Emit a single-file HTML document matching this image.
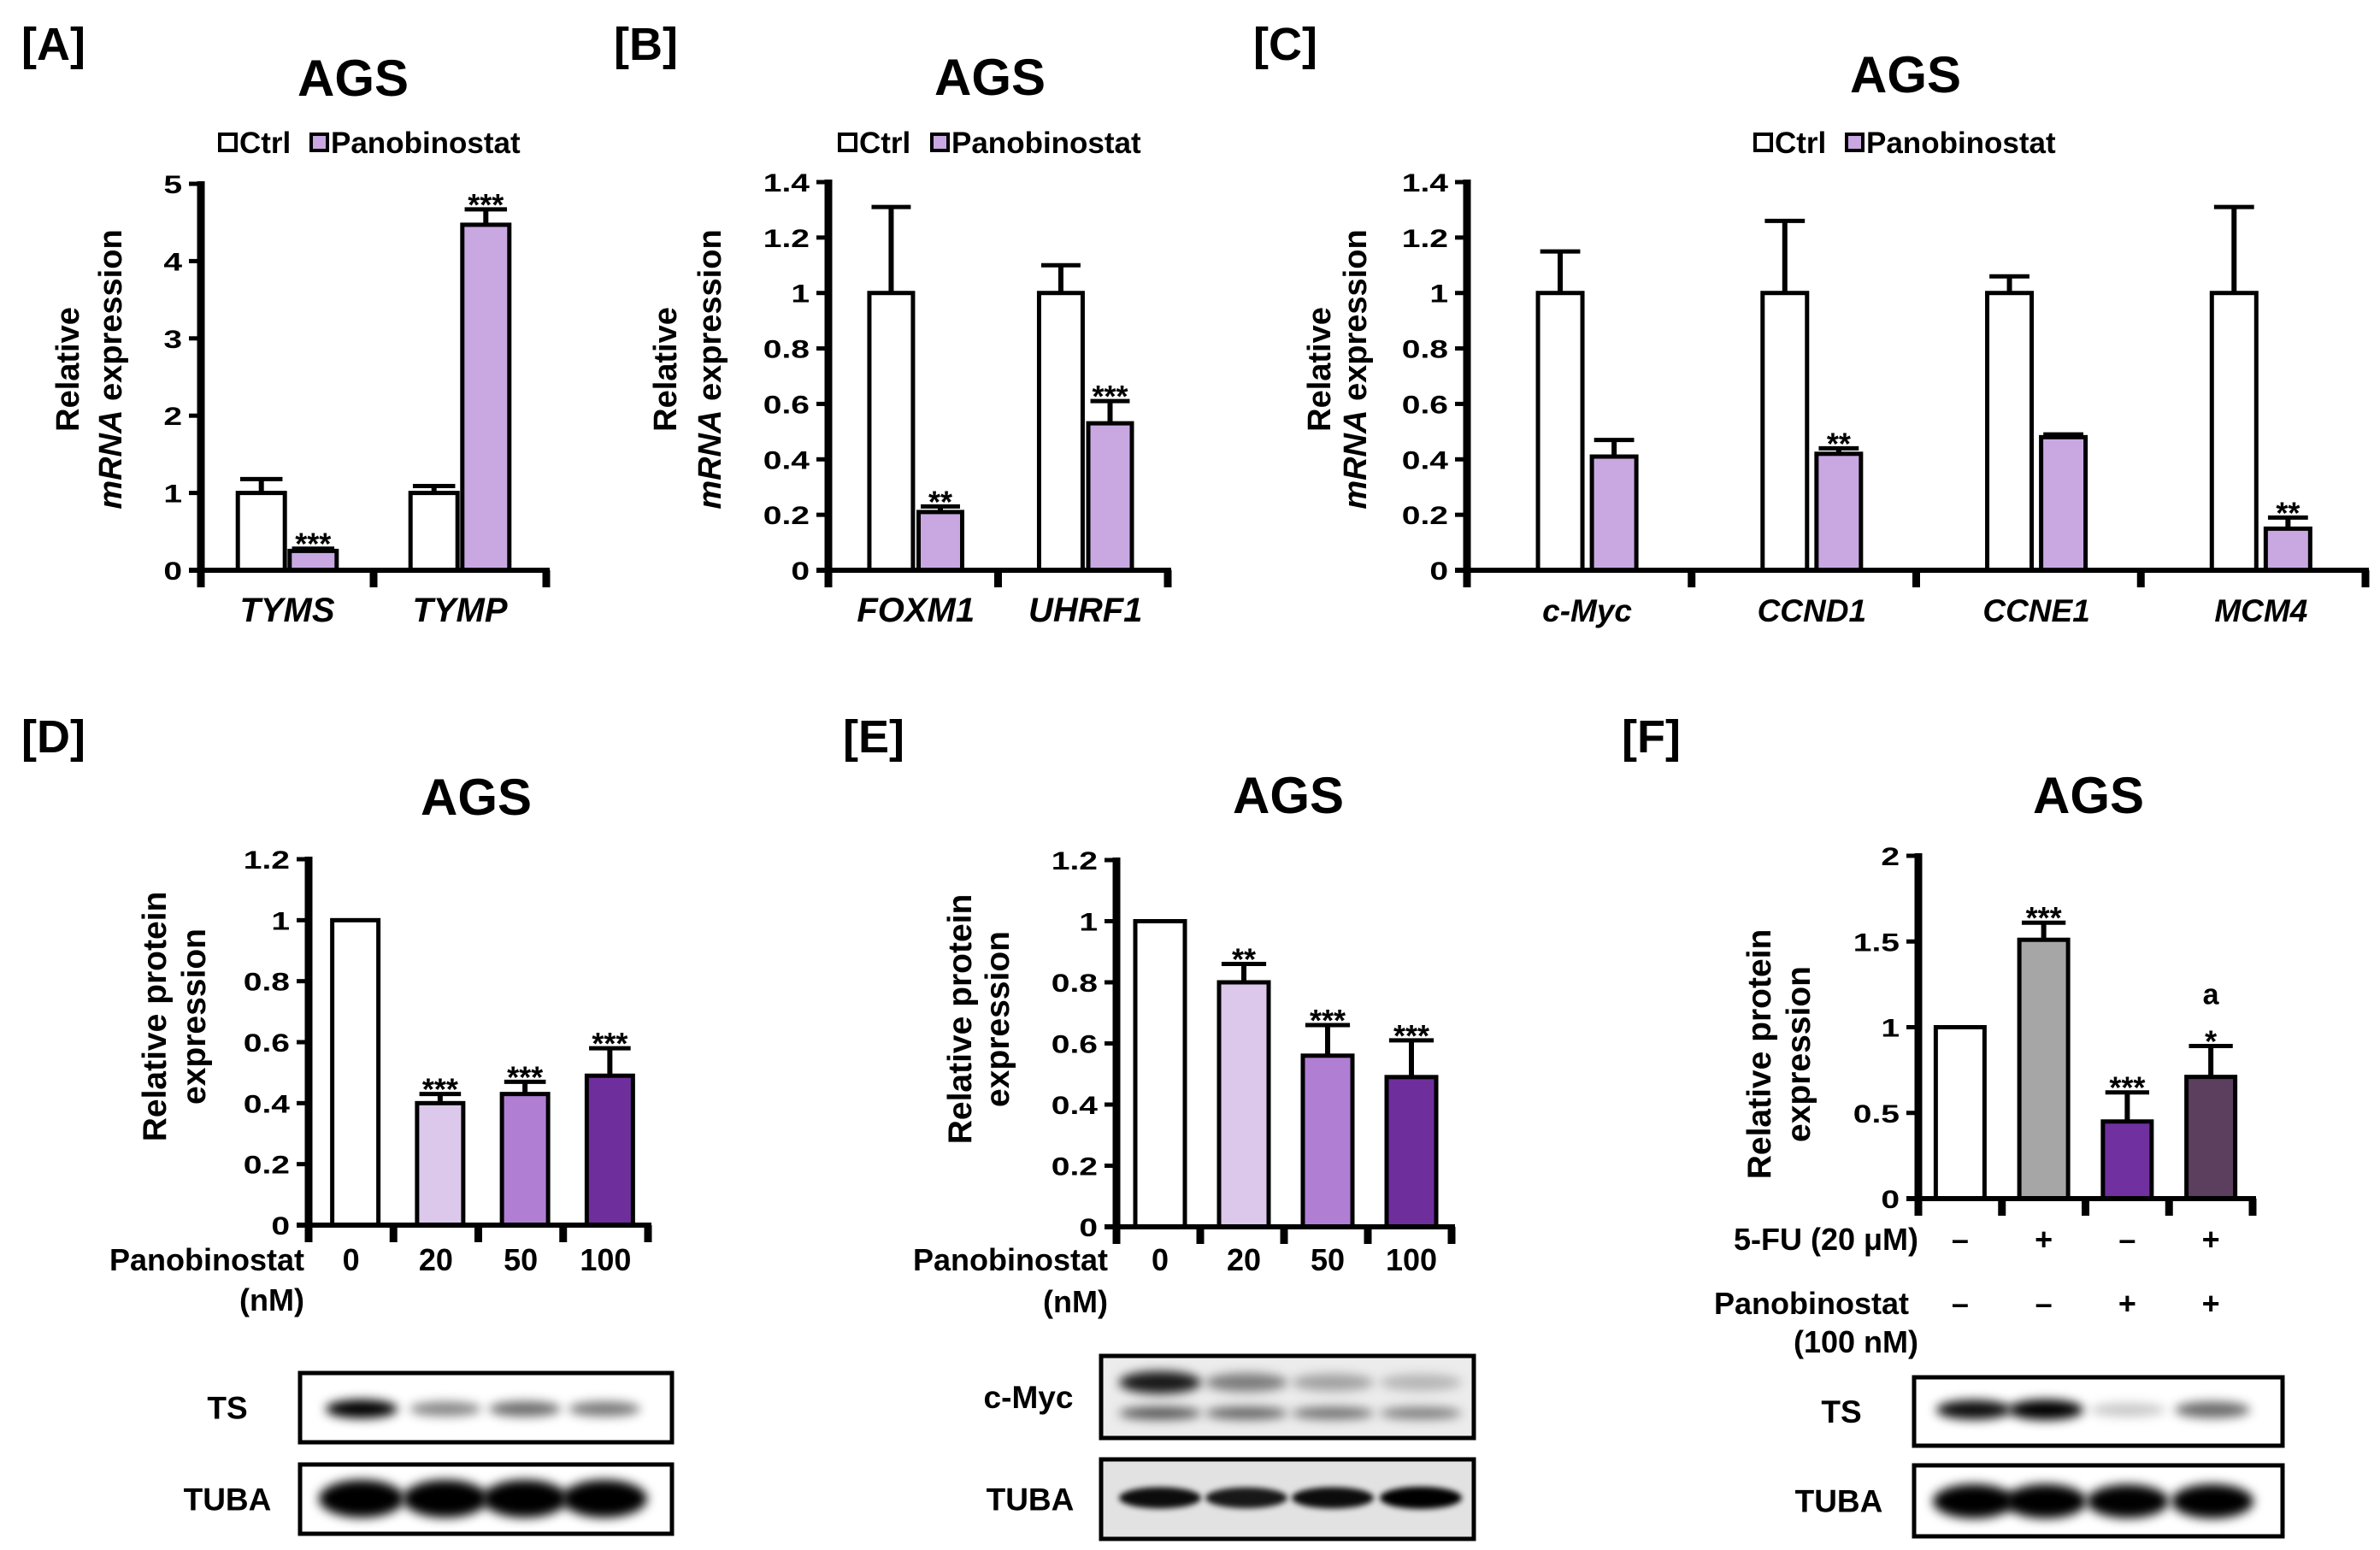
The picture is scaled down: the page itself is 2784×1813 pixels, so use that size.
<!DOCTYPE html>
<html><head><meta charset="utf-8"><style>
html,body{margin:0;padding:0;background:#fff;}
svg{display:block;font-family:"Liberation Sans",Arial,sans-serif;}
</style></head><body>
<svg id="fig" width="2784" height="1813" viewBox="0 0 2784 1813" xmlns="http://www.w3.org/2000/svg">
<defs>
<filter id="blur6" x="-50%" y="-100%" width="200%" height="300%"><feGaussianBlur stdDeviation="6"/></filter>
<filter id="blur3" x="-50%" y="-100%" width="200%" height="300%"><feGaussianBlur stdDeviation="3.5"/></filter>
</defs>
<rect width="2784" height="1813" fill="#fff"/>
<g font-weight="bold" fill="#000">
<text x="25" y="70" font-size="54">[A]</text>
<text x="718" y="70" font-size="54">[B]</text>
<text x="1466" y="70" font-size="54">[C]</text>
<text x="25" y="880" font-size="54">[D]</text>
<text x="986" y="880" font-size="54">[E]</text>
<text x="1897" y="880" font-size="54">[F]</text>
<text x="413" y="112" font-size="60" text-anchor="middle">AGS</text>
<text x="1158" y="111" font-size="60" text-anchor="middle">AGS</text>
<text x="2229" y="108" font-size="60" text-anchor="middle">AGS</text>
<text x="557" y="953" font-size="60" text-anchor="middle">AGS</text>
<text x="1507" y="951" font-size="60" text-anchor="middle">AGS</text>
<text x="2443" y="951" font-size="60" text-anchor="middle">AGS</text>
</g>
</svg>
<script>
// ---- Panel A data ----
const aCats=['TYMS','TYMP'];
const aCtrl=[1,1];
const aCtrlErr=[0.18,0.09];
const aPano=[0.25,4.47];
const aPanoErr=[0.03,0.2];
const aStars=['***','***'];
const aTicks=[0,1,2,3,4,5];
const aTickLabels=['0','1','2','3','4','5'];
// ---- Panel B data ----
const bCats=['FOXM1','UHRF1'];
const bCtrl=[1,1];
const bCtrlErr=[0.31,0.10];
const bPano=[0.21,0.53];
const bPanoErr=[0.02,0.08];
const bStars=['**','***'];
const bTicks=[0,0.2,0.4,0.6,0.8,1,1.2,1.4];
const bTickLabels=['0','0.2','0.4','0.6','0.8','1','1.2','1.4'];
// ---- Panel C data ----
const cCats=['c-Myc','CCND1','CCNE1','MCM4'];
const cCtrl=[1,1,1,1];
const cCtrlErr=[0.15,0.26,0.06,0.31];
const cPano=[0.41,0.42,0.48,0.15];
const cPanoErr=[0.06,0.02,0.01,0.04];
const cStars=['','**','','**'];
const cTicks=[0,0.2,0.4,0.6,0.8,1,1.2,1.4];
const cTickLabels=['0','0.2','0.4','0.6','0.8','1','1.2','1.4'];
// ---- Panel D data ----
const dCats=['0','20','50','100'];
const dVals=[1,0.40,0.43,0.49];
const dErr=[0,0.03,0.04,0.09];
const dStars=['','***','***','***'];
const dTicks=[0,0.2,0.4,0.6,0.8,1,1.2];
const dTickLabels=['0','0.2','0.4','0.6','0.8','1','1.2'];
const dTS=[1,0.45,0.55,0.5];
const dTUBA=[1,1,1,1];
// ---- Panel E data ----
const eCats=['0','20','50','100'];
const eVals=[1,0.80,0.56,0.49];
const eErr=[0,0.06,0.10,0.12];
const eStars=['','**','***','***'];
const eTicks=[0,0.2,0.4,0.6,0.8,1,1.2];
const eTickLabels=['0','0.2','0.4','0.6','0.8','1','1.2'];
const eMycUpper=[0.85,0.45,0.3,0.22];
const eMycLower=[0.6,0.55,0.5,0.45];
const eTUBA=[0.9,0.85,0.9,1];
// ---- Panel F data ----
const fFU=['–','+','–','+'];
const fPano=['–','–','+','+'];
const fVals=[1,1.51,0.45,0.71];
const fErr=[0,0.10,0.17,0.18];
const fStars=['','***','***','*'];
const fTicks=[0,0.5,1,1.5,2];
const fTickLabels=['0','0.5','1','1.5','2'];
const fTS=[0.9,1,0.2,0.55];
const fTUBA=[1,1,0.95,1];

const NS='http://www.w3.org/2000/svg';
const svg=document.getElementById('fig');
function mk(tag,attrs,parent,txt){
  const e=document.createElementNS(NS,tag);
  for(const k in attrs) e.setAttribute(k,attrs[k]);
  if(txt!=null) e.textContent=txt;
  (parent||svg).appendChild(e);
  return e;
}
function line(x1,y1,x2,y2,w,p){return mk('line',{x1:x1,y1:y1,x2:x2,y2:y2,stroke:'#000','stroke-width':w},p);}

function axes(g,P,n,scale){
  P.ticks.forEach((t,i)=>{
    const y=scale(t);
    const tk=line(P.x0-14,y,P.x0,y,5,g);
    
    
    const tl=mk('text',{transform:`translate(${P.x0-22},${y+11}) scale(1.3,1)`,'font-size':30,'font-weight':'bold','text-anchor':'end'},g,P.labels[i]);
    
    
  });
  const ya=line(P.x0,P.yTop-3,P.x0,P.y0+20,9,g);
  
  
  const xa=line(P.x0-14,P.y0,P.x1+4,P.y0,6,g);
  
  
  const gw=(P.x1-P.x0)/n;
  for(let i=0;i<=n;i++){
    const xt=line(P.x0+i*gw,P.y0,P.x0+i*gw,P.y0+20,9,g);
    
    
  }
}
function bar(g,cx,bw,v,err,fill,scale,P,star,name){
  const y=scale(v);
  if(err>0){
    const ye=scale(v+err);
    const el=line(cx,y,cx,ye,6,g);
    
    
    const cap=line(cx-bw*0.45,ye,cx+bw*0.45,ye,5,g);
    
    
  }
  const r=mk('rect',{x:cx-bw/2,y:y,width:bw,height:P.y0-y,fill:fill,stroke:'#000','stroke-width':5},g);
  
  
  if(star){
    const s=mk('text',{x:cx,y:scale(v+err)+7,'font-size':36,'font-weight':'bold','text-anchor':'middle'},g,star);
    
    
  }
}
function grouped(P,cats,ctrl,ctrlErr,pano,panoErr,stars,name){
  const g=mk('g',{});
  
  
  const scale=v=>P.y0-v/P.max*(P.y0-P.yTop);
  const n=cats.length, gw=(P.x1-P.x0)/n;
  cats.forEach((c,i)=>{
    const gx=P.x0+i*gw;
    bar(g,gx+P.offC*gw,P.bw,ctrl[i],ctrlErr[i],'#fff',scale,P,'','bar-ctrl-'+c.toLowerCase());
    bar(g,gx+P.offP*gw,P.bw,pano[i],panoErr[i],'#c9a8e2',scale,P,stars[i],'bar-panobinostat-'+c.toLowerCase());
    const t=mk('text',{x:gx+(P.offC+P.offP)/2*gw,y:P.y0+60,'font-size':P.catFont,'font-weight':'bold','font-style':'italic','text-anchor':'middle'},g,c);
    
    
  });
  axes(g,P,n,scale);
  const L=P.leg;
  const s1=mk('rect',{x:L[0]+2,y:157,width:19,height:19,fill:'#fff',stroke:'#000','stroke-width':4},g);
  
  
  const t1=mk('text',{x:L[0]+25,y:179,'font-size':35,'font-weight':'bold'},g,'Ctrl');
  
  
  const s2=mk('rect',{x:L[1]+2,y:157,width:19,height:19,fill:'#c9a8e2',stroke:'#000','stroke-width':4},g);
  
  
  const t2=mk('text',{x:L[1]+25,y:179,'font-size':35,'font-weight':'bold'},g,'Panobinostat');
  
  
  const yt=mk('text',{transform:`translate(${P.yt[0]},432) rotate(-90)`,'font-size':38,'font-weight':'bold','text-anchor':'middle'},g);
  
  
  mk('tspan',{x:0,y:13},yt,'Relative');
  const ts=mk('tspan',{x:0,y:13+(P.yt[1]-P.yt[0])},yt);
  mk('tspan',{'font-style':'italic'},ts,'mRNA');
  mk('tspan',{},ts,' expression');
}
function single(P,vals,err,stars,fills,name){
  const g=mk('g',{});
  
  
  const scale=v=>P.y0-v/P.max*(P.y0-P.yTop);
  const n=vals.length, gw=(P.x1-P.x0)/n;
  vals.forEach((v,i)=>{
    bar(g,P.x0+(i+0.5)*gw+P.shift,P.bw,v,err[i],fills[i],scale,P,stars[i],'bar-'+i);
  });
  axes(g,P,n,scale);
  const yt=mk('text',{transform:`translate(${P.yt[0]},${P.ytc}) rotate(-90)`,'font-size':39,'font-weight':'bold','text-anchor':'middle'},g);
  
  
  mk('tspan',{x:0,y:13},yt,'Relative protein');
  mk('tspan',{x:0,y:13+(P.yt[1]-P.yt[0])},yt,'expression');
  return {g:g,gw:gw};
}
function catRow(g,P,gw,cats,y,shift,nameLbl){
  cats.forEach((c,i)=>{
    const t=mk('text',{x:P.x0+(i+0.5)*gw+shift,y:y,'font-size':36,'font-weight':'bold','text-anchor':'middle'},g,c);
    
    
  });
}
function blot(x,y,w,h,lanes,label,lblX,name,bands,bg){
  const g=mk('g',{});
  
  
  mk('rect',{x:x,y:y,width:w,height:h,fill:bg||'#fff'},g);
  bands.forEach(b=>{
    lanes.forEach((lx,i)=>{
      const v=b.vals[i];
      const e=mk('ellipse',{cx:lx,cy:y+b.dy,rx:b.rx,ry:b.ry*(0.6+0.4*v),fill:'#000','fill-opacity':Math.min(1,v*1.05),filter:'url(#'+b.f+')'},g);
      
      
    });
  });
  const r=mk('rect',{x:x,y:y,width:w,height:h,fill:'none',stroke:'#000','stroke-width':5},g);
  
  
  const t=mk('text',{x:lblX,y:y+h/2+13,'font-size':37,'font-weight':'bold','text-anchor':'middle'},g,label);
  
  
}

grouped({x0:235,x1:639,y0:667,yTop:215,max:5,ticks:aTicks,labels:aTickLabels,offC:0.35,offP:0.65,bw:55,catFont:40,leg:[255,362],yt:[79,129]},aCats,aCtrl,aCtrlErr,aPano,aPanoErr,aStars,'panel-a-chart');
grouped({x0:969,x1:1366,y0:667,yTop:213,max:1.4,ticks:bTicks,labels:bTickLabels,offC:0.37,offP:0.66,bw:51,catFont:40,leg:[980,1088],yt:[778,830]},bCats,bCtrl,bCtrlErr,bPano,bPanoErr,bStars,'panel-b-chart');
grouped({x0:1716,x1:2767,y0:667,yTop:213,max:1.4,ticks:cTicks,labels:cTickLabels,offC:0.415,offP:0.655,bw:52,catFont:37,leg:[2051,2158],yt:[1543,1585]},cCats,cCtrl,cCtrlErr,cPano,cPanoErr,cStars,'panel-c-chart');

const PD={x0:361,x1:758,y0:1433,yTop:1005,max:1.2,ticks:dTicks,labels:dTickLabels,bw:54,shift:5,yt:[181,227],ytc:1189};
const rd=single(PD,dVals,dErr,dStars,['#fff','#dcc8ea','#b07fd4','#6e2f9c'],'panel-d-chart');
catRow(rd.g,PD,rd.gw,dCats,1486,0,'x-category-label');
let t=mk('text',{x:356,y:1486,'font-size':36,'font-weight':'bold','text-anchor':'end'},rd.g,'Panobinostat');


t=mk('text',{x:356,y:1533,'font-size':36,'font-weight':'bold','text-anchor':'end'},rd.g,'(nM)');


blot(351,1606,435,81,[423,521,614,707],'TS',266,'blot-d-ts',[{dy:42,rx:42,ry:11,f:'blur6',vals:dTS}]);
blot(351,1713,435,81,[423,521,614,707],'TUBA',266,'blot-d-tuba',[{dy:40,rx:50,ry:22,f:'blur6',vals:dTUBA}]);

const PE={x0:1306,x1:1698,y0:1435,yTop:1006,max:1.2,ticks:eTicks,labels:eTickLabels,bw:58,shift:2,yt:[1123,1167],ytc:1192};
const re=single(PE,eVals,eErr,eStars,['#fff','#dcc8ea','#b07fd4','#6e2f9c'],'panel-e-chart');
catRow(re.g,PE,re.gw,eCats,1486,2,'x-category-label');
t=mk('text',{x:1296,y:1486,'font-size':36,'font-weight':'bold','text-anchor':'end'},re.g,'Panobinostat');


t=mk('text',{x:1296,y:1535,'font-size':36,'font-weight':'bold','text-anchor':'end'},re.g,'(nM)');


blot(1288,1586,436,96,[1357,1458,1559,1662],'c-Myc',1203,'blot-e-cmyc',[{dy:31,rx:48,ry:14,f:'blur6',vals:eMycUpper},{dy:67,rx:48,ry:9,f:'blur6',vals:eMycLower}],'#ececec');
blot(1288,1707,436,93,[1357,1458,1559,1662],'TUBA',1205,'blot-e-tuba',[{dy:45,rx:48,ry:13,f:'blur3',vals:eTUBA}],'#e2e2e2');

const PF={x0:2244,x1:2635,y0:1402,yTop:1001,max:2,ticks:fTicks,labels:fTickLabels,bw:57,shift:0,yt:[2058,2104],ytc:1233};
const rf=single(PF,fVals,fErr,fStars,['#fff','#a6a6a6','#7030a0','#5c3f5e'],'panel-f-chart');
{
  const scale=v=>PF.y0-v/PF.max*(PF.y0-PF.yTop);
  t=mk('text',{x:PF.x0+3.5*rf.gw,y:scale(fVals[3]+fErr[3])-49,'font-size':34,'font-weight':'bold','text-anchor':'middle'},rf.g,'a');
  
  
}
catRow(rf.g,PF,rf.gw,fFU,1462,0,'5fu-sign');
catRow(rf.g,PF,rf.gw,fPano,1537,0,'panobinostat-sign');
t=mk('text',{x:2244,y:1462,'font-size':36,'font-weight':'bold','text-anchor':'end'},rf.g,'5-FU (20 μM)');


t=mk('text',{x:2233,y:1537,'font-size':36,'font-weight':'bold','text-anchor':'end'},rf.g,'Panobinostat');


t=mk('text',{x:2244,y:1582,'font-size':36,'font-weight':'bold','text-anchor':'end'},rf.g,'(100 nM)');


blot(2239,1611,431,80,[2309,2393,2489,2588],'TS',2154,'blot-f-ts',[{dy:38,rx:44,ry:12,f:'blur6',vals:fTS}]);
blot(2239,1714,431,83,[2309,2393,2489,2588],'TUBA',2151,'blot-f-tuba',[{dy:42,rx:48,ry:20,f:'blur6',vals:fTUBA}]);
</script>
</body></html>
